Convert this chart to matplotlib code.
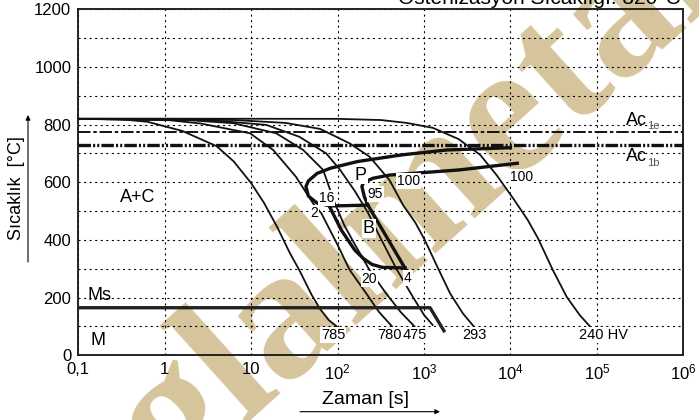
import matplotlib
matplotlib.use('Agg')
from matplotlib import pyplot as plt

plt.rcParams['font.family'] = ['Liberation Sans', 'DejaVu Sans']
plt.rcParams['mathtext.default'] = 'regular'
plt.rcParams['lines.scale_dashes'] = False

# cooling curves: time [s], temperature [C]
c785_t = [0.1, 0.32, 0.63, 1.6, 4.0, 6.3, 10, 14, 20, 28, 36, 50, 63, 79, 98]
c785_T = [820, 818, 810, 778, 725, 672, 597, 530, 445, 355, 296, 210, 160, 122, 100]
c780_t = [0.1, 1.0, 2.6, 9.7, 18, 33, 52, 65, 98, 138, 214, 302, 427]
c780_T = [820, 817, 804, 770, 712, 619, 527, 492, 388, 296, 215, 150, 100]
c475_t = [0.1, 2.0, 6.2, 19.5, 40, 68, 93, 120, 158, 234, 363, 537, 776]
c475_T = [820, 815, 805, 770, 712, 643, 527, 450, 385, 296, 215, 150, 100]
c4_t = [0.1, 3.2, 15, 36, 74, 107, 158, 224, 316, 479, 741, 1000, 1260]
c4_T = [820, 816, 799, 758, 700, 643, 570, 495, 405, 300, 203, 140, 105]
c293_t = [0.1, 6.3, 25, 63, 138, 234, 398, 575, 794, 1020, 1410, 2000, 2820, 3720]
c293_T = [820, 816, 806, 785, 735, 689, 608, 520, 460, 400, 310, 215, 145, 102]
c240_t = [0.1, 100, 316, 631, 1260, 2510, 4470, 6920, 10700, 15800, 20900, 30900, 44700, 63100, 83200]
c240_T = [821, 820, 816, 806, 789, 750, 695, 625, 545, 470, 405, 296, 203, 140, 100]

curves = [(c785_t, c785_T), (c780_t, c780_T), (c475_t, c475_T),
          (c4_t, c4_T), (c293_t, c293_T), (c240_t, c240_T)]

# transformation regions
p_outer_t = [10000, 1820, 550, 170, 83, 58, 46, 43, 46, 58, 83, 126, 224]
p_outer_T = [720, 712, 695, 672, 649, 631, 605, 585, 552, 528, 518, 519, 521]
p_inner_t = [12000, 2570, 398, 257, 200, 191, 204, 224, 603]
p_inner_T = [666, 643, 625, 614, 600, 585, 550, 521, 302]
b_left_t = [81, 110, 158, 200, 251, 331, 603]
b_left_T = [515, 435, 365, 335, 315, 305, 303]
ms_t = [0.1, 1175, 1700]
ms_T = [165, 165, 85]

ac1e = 775
ac1b = 729

hardness = [('785', 89, 70), ('780', 398, 70), ('475', 776, 70),
            ('293', 3800, 70), ('240 HV', 120000, 70)]
percents = [('2', 54, 493), ('16', 74, 545), ('95', 275, 560), ('100', 660, 604),
            ('100', 13500, 618), ('20', 234, 265), ('4', 650, 268)]
phases = [('P', 186, 625), ('B', 229, 440), ('A+C', 0.48, 546),
          ('Ms', 0.178, 209), ('M', 0.167, 50)]

xticks = [0.1, 1, 10, 1e2, 1e3, 1e4, 1e5, 1e6]
xticklabels = ['0,1', '1', '10', '$10^2$', '$10^3$', '$10^4$', '$10^5$', '$10^6$']

fig = plt.figure(figsize=(6.99, 4.2), dpi=100)
ax = fig.add_axes([78.3 / 699, 1 - 355.3 / 420, 605 / 699, 346 / 420])
ax.set_xscale('log')
ax.set_xlim(0.1, 1e6)
ax.set_ylim(0, 1200)
ax.set_axisbelow('line')

ax.set_xticks(xticks)
ax.set_xticklabels(xticklabels)
ax.set_yticks(range(0, 1201, 200))
ax.set_yticks(range(100, 1200, 200), minor=True)
ax.xaxis.set_minor_locator(matplotlib.ticker.NullLocator())
ax.tick_params(which='both', length=0, labelsize=12, pad=5)
ax.grid(True, which='both', color='black', lw=0.8, linestyle=(0, (1.5, 2.5)))
for s in ax.spines.values():
    s.set_color('#222222')
    s.set_linewidth(1.4)

# watermark
ax.text(420 / 699, 1 - 203 / 420, 'glalmetal', transform=fig.transFigure,
        rotation=42, ha='center', va='center', rotation_mode='anchor',
        fontsize=136, family='Liberation Serif', weight='bold',
        color='#d6c59c', zorder=0.8, clip_on=False)

for t, T in curves:
    ax.plot(t, T, color='#111111', lw=1.3, zorder=3)

ax.plot(p_outer_t, p_outer_T, color='#111111', lw=2.4, zorder=4)
ax.plot(p_inner_t, p_inner_T, color='#111111', lw=2.4, zorder=4)
ax.plot(b_left_t, b_left_T, color='#111111', lw=2.4, zorder=4)
ax.plot(ms_t, ms_T, color='#222222', lw=2.4, zorder=4)

ax.axhline(ac1e, color='#111111', lw=1.4, linestyle=(0, (9, 2, 2.5, 2)), zorder=3)
ax.axhline(ac1b, color='#111111', lw=2.4, linestyle=(0, (9, 1.5, 1.5, 1.5, 1.5, 1.5)), zorder=3)

box = dict(fc='white', ec='none', pad=0.6)
for txt, x, y in hardness:
    ax.text(x, y, txt, ha='center', va='center', fontsize=10.5, bbox=box, zorder=5)
for txt, x, y in percents:
    ax.text(x, y, txt, ha='center', va='center', fontsize=10, bbox=box, zorder=5)
for txt, x, y in phases:
    ax.text(x, y, txt, ha='center', va='center', fontsize=13, zorder=5,
            bbox=box if txt in ('P', 'B') else None)

ax.text(288000, 816, 'Ac', ha='center', va='center', fontsize=13, zorder=5)
ax.text(447000, 794, '1e', ha='center', va='center', fontsize=8, color='#555555', zorder=5)
ax.text(288000, 690, 'Ac', ha='center', va='center', fontsize=13, zorder=5)
ax.text(447000, 667, '1b', ha='center', va='center', fontsize=8, color='#555555', zorder=5)

# axis titles with arrows
fig.text(17 / 699, 1 - 188 / 420, 'Sıcaklık  [°C]', rotation=90, ha='center', va='center', fontsize=13)
ax.annotate('', xy=(28, 420 - 115), xytext=(28, 420 - 262), xycoords='figure pixels',
            textcoords='figure pixels', annotation_clip=False,
            arrowprops=dict(arrowstyle='-|>', lw=0.8, color='black', mutation_scale=7, shrinkA=0, shrinkB=0))
fig.text(366 / 699, 1 - 399 / 420, 'Zaman [s]', ha='center', va='center', fontsize=14)
ax.annotate('', xy=(440, 420 - 411.7), xytext=(300, 420 - 411.7), xycoords='figure pixels',
            textcoords='figure pixels', annotation_clip=False,
            arrowprops=dict(arrowstyle='-|>', lw=0.8, color='black', mutation_scale=7, shrinkA=0, shrinkB=0))

fig.text(681 / 699, 1 - 3.5 / 420, 'Östenizasyon Sıcaklığı: 820°C', ha='right', va='baseline', fontsize=15)

fig.savefig('out.png', dpi=100)
